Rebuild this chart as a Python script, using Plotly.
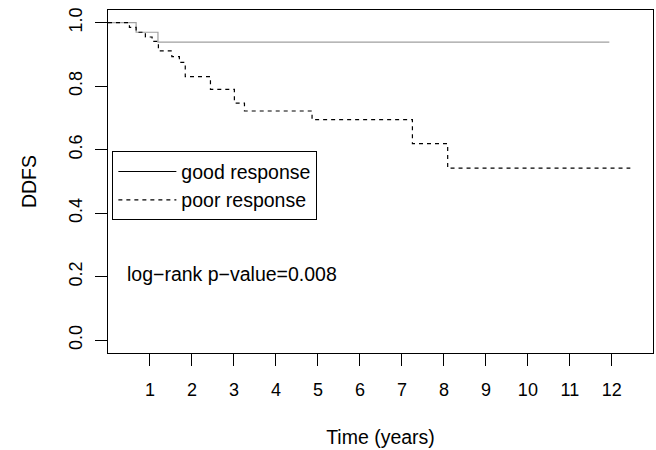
import plotly.graph_objects as go

# Kaplan-Meier step data
good_time = [0, 0.67, 1.19, 11.94]
good_surv = [1.0, 0.970, 0.939, 0.939]

poor_time = [0, 0.51, 0.67, 0.89, 1.05, 1.20, 1.52, 1.70, 1.84, 2.44, 3.01, 3.25, 4.86, 7.25, 8.09, 12.44]
poor_surv = [1.0, 0.985, 0.970, 0.955, 0.941, 0.911, 0.893, 0.875, 0.830, 0.790, 0.747, 0.722, 0.695, 0.619, 0.542, 0.542]

legend_labels = ["good response", "poor response"]
x_ticks = list(range(1, 13))
y_ticks = [0.0, 0.2, 0.4, 0.6, 0.8, 1.0]
annotation_text = "log\u2212rank p\u2212value=0.008"

FONT = "Liberation Sans, Arial, Helvetica, sans-serif"

fig = go.Figure()
fig.add_trace(go.Scatter(x=good_time, y=good_surv, mode="lines", line_shape="hv",
                         line=dict(color="#a0a0a0", width=1.2), showlegend=False, hoverinfo="skip"))
fig.add_trace(go.Scatter(x=poor_time, y=poor_surv, mode="lines", line_shape="hv",
                         line=dict(color="black", width=1.2, dash="4px,4px"), showlegend=False, hoverinfo="skip"))
# legend entries (black, as in the reference)
fig.add_trace(go.Scatter(x=[None], y=[None], mode="lines", name=legend_labels[0],
                         line=dict(color="black", width=1.2)))
fig.add_trace(go.Scatter(x=[None], y=[None], mode="lines", name=legend_labels[1],
                         line=dict(color="black", width=1.2, dash="4px,4px")))

fig.add_annotation(x=0.40, y=0.21, xref="x", yref="y", text=annotation_text, showarrow=False,
                   xanchor="left", yanchor="middle", font=dict(size=19.5, color="black", family=FONT))

fig.update_layout(
    template="none",
    width=656, height=450,
    margin=dict(l=108, r=3, t=10, b=97, autoexpand=False),
    paper_bgcolor="white", plot_bgcolor="white",
    font=dict(family=FONT, size=19, color="black"),
    legend=dict(x=0.008, y=0.588, xanchor="left", yanchor="top", bordercolor="black", borderwidth=1,
                bgcolor="white", font=dict(size=19.5), itemwidth=58),
    xaxis=dict(range=[0, 12.98], tickvals=x_ticks, ticks="outside", ticklen=12, tickcolor="black",
               tickwidth=1, automargin=False,
               showline=True, linecolor="black", linewidth=1, mirror=True, showgrid=False, zeroline=False,
               tickfont=dict(size=18), title=dict(text="Time (years)", standoff=31, font=dict(size=19.5)),
               ticklabelstandoff=8),
    yaxis=dict(range=[-0.04, 1.04], tickvals=y_ticks, tickformat=".1f", ticks="outside", ticklen=12,
               tickcolor="black", tickwidth=1, tickangle=-90, automargin=False,
               showline=True, linecolor="black", linewidth=1, mirror=True, showgrid=False, zeroline=False,
               tickfont=dict(size=18), title=dict(text="DDFS", standoff=23, font=dict(size=19.5)),
               ticklabelstandoff=6),
)

fig.write_html("out.html", config={"displayModeBar": False},
               post_script="document.body.style.margin='0px';document.body.style.overflow='hidden';")
